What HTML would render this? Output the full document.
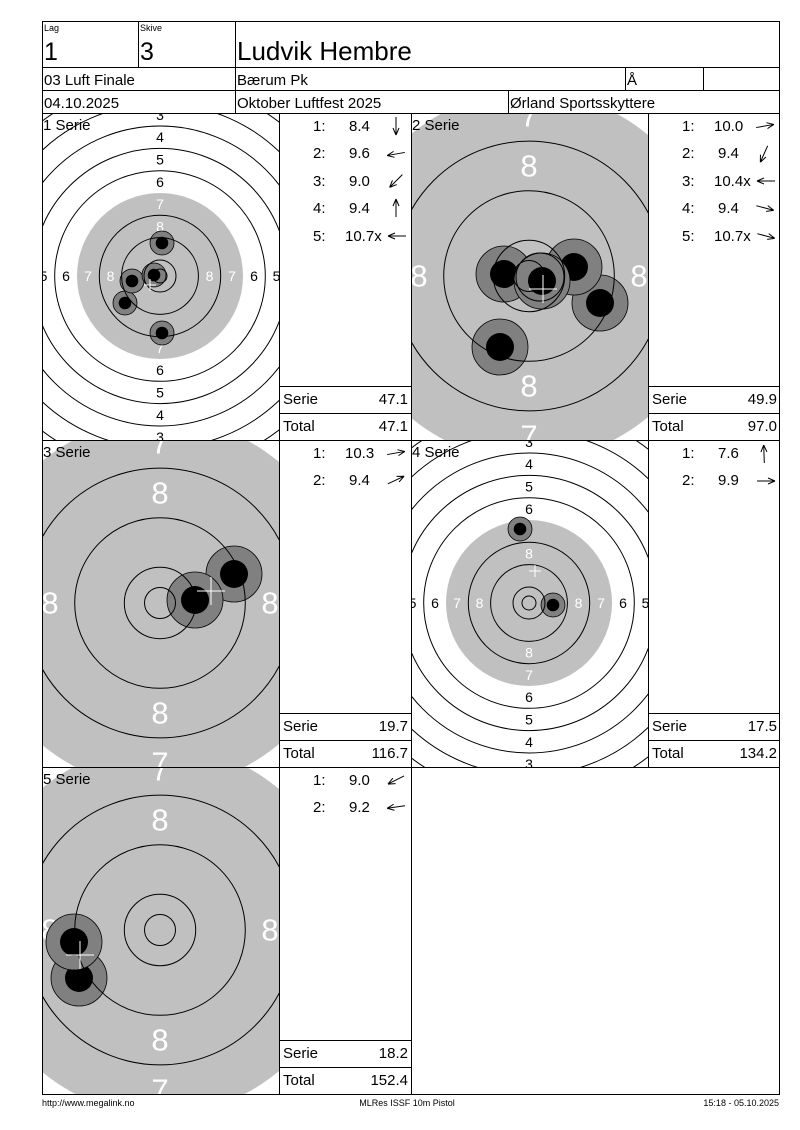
<!DOCTYPE html>
<html><head><meta charset="utf-8"><style>
html,body{margin:0;padding:0;background:#fff;width:800px;height:1130px;overflow:hidden}
svg, svg text{font-family:"Liberation Sans",Arial,sans-serif}
.t{font-size:15px;fill:#000}
.lb{font-size:14px;text-anchor:middle;dominant-baseline:central}
.lg{font-size:31px;text-anchor:middle;dominant-baseline:central;fill:#fff}
.rg{fill:none;stroke:#000;stroke-width:1}
.h{fill:#808080;stroke:#000;stroke-width:0.8}
.ar{fill:none;stroke:#000;stroke-width:1}
</style></head><body>
<svg width="800" height="1130" viewBox="0 0 800 1130" font-family="Liberation Sans, Arial, sans-serif" style="display:block">
<defs>
<clipPath id="c1"><rect x="43" y="114" width="236" height="326"/></clipPath>
<clipPath id="c2"><rect x="412" y="114" width="236" height="326"/></clipPath>
<clipPath id="c3"><rect x="43" y="441" width="236" height="326"/></clipPath>
<clipPath id="c4"><rect x="412" y="441" width="236" height="326"/></clipPath>
<clipPath id="c5"><rect x="43" y="768" width="236" height="326"/></clipPath>
<path id="ar" d="M-9,0 H9 M9,0 l-7,-3 M9,0 l-7,3"/>
<g id="smallOuter">
<circle class="rg" r="217"/><circle class="rg" r="194.6"/><circle class="rg" r="172.3"/><circle class="rg" r="150"/><circle class="rg" r="127.6"/><circle class="rg" r="105.3"/>
<circle r="83" fill="#c0c0c0"/>
<g font-family="Liberation Sans, Arial, sans-serif">
<text class="lb" x="0" y="-161">3</text><text class="lb" x="0" y="-139">4</text><text class="lb" x="0" y="-116.5">5</text><text class="lb" x="0" y="-94">6</text><text class="lb" x="0" y="-72" fill="#fff">7</text><text class="lb" x="0" y="-49.5" fill="#fff">8</text>
<text class="lb" x="0" y="161">3</text><text class="lb" x="0" y="139">4</text><text class="lb" x="0" y="116.5">5</text><text class="lb" x="0" y="94">6</text><text class="lb" x="0" y="72" fill="#fff">7</text><text class="lb" x="0" y="49.5" fill="#fff">8</text>
<text class="lb" x="-116.5" y="0">5</text><text class="lb" x="-94" y="0">6</text><text class="lb" x="-72" y="0" fill="#fff">7</text><text class="lb" x="-49.5" y="0" fill="#fff">8</text>
<text class="lb" x="116.5" y="0">5</text><text class="lb" x="94" y="0">6</text><text class="lb" x="72" y="0" fill="#fff">7</text><text class="lb" x="49.5" y="0" fill="#fff">8</text>
</g>
</g>
<g id="smallInner">
<circle class="rg" r="60.7"/><circle class="rg" r="38.4"/><circle class="rg" r="16"/><circle class="rg" r="7"/>
</g>
<g id="bigOuter">
<circle r="184.5" fill="#c0c0c0"/>
<g font-family="Liberation Sans, Arial, sans-serif">
<text class="lg" x="0" y="-110">8</text><text class="lg" x="0" y="110">8</text><text class="lg" x="-110" y="0">8</text><text class="lg" x="110" y="0">8</text>
<text class="lg" x="0" y="-160">7</text><text class="lg" x="0" y="160">7</text>
</g>
</g>
<g id="bigInner">
<circle class="rg" r="134.9"/><circle class="rg" r="85.3"/><circle class="rg" r="35.7"/><circle class="rg" r="15.5"/>
</g>
</defs>

<!-- Panel 1 -->
<g clip-path="url(#c1)"><g transform="translate(160,276)">
<use href="#smallOuter"/>
<circle class="h" cx="2" cy="-33" r="12"/><circle cx="2" cy="-33" r="6.3"/>
<circle class="h" cx="-35" cy="27" r="12"/><circle cx="-35" cy="27" r="6.3"/>
<circle class="h" cx="-28" cy="5" r="12"/><circle cx="-28" cy="5" r="6.3"/>
<circle class="h" cx="2" cy="57" r="12"/><circle cx="2" cy="57" r="6.3"/>
<circle class="h" cx="-6" cy="-1" r="12"/><circle cx="-6" cy="-1" r="6.3"/>
<use href="#smallInner"/>
<path d="M-16,9 H-4 M-10,3 V15" stroke="#fff" stroke-width="1"/>
</g></g>
<!-- Panel 2 -->
<g clip-path="url(#c2)"><g transform="translate(529,276)">
<use href="#bigOuter"/>
<circle class="h" cx="-29" cy="71" r="28"/><circle cx="-29" cy="71" r="14"/>
<circle class="h" cx="71" cy="27" r="28"/><circle cx="71" cy="27" r="14"/>
<circle class="h" cx="45" cy="-9" r="28"/><circle cx="45" cy="-9" r="14"/>
<circle class="h" cx="-25" cy="-2" r="28"/><circle cx="-25" cy="-2" r="14"/>
<circle class="h" cx="13" cy="5" r="28"/><circle cx="13" cy="5" r="14"/>
<circle class="rg" cx="11" cy="1" r="24" stroke-width="0.8"/>
<use href="#bigInner"/>
<path d="M0,13 H28 M14,-1 V27" stroke="#fff" stroke-width="1"/>
</g></g>
<!-- Panel 3 -->
<g clip-path="url(#c3)"><g transform="translate(160,603)">
<use href="#bigOuter"/>
<circle class="h" cx="74" cy="-29" r="28"/><circle cx="74" cy="-29" r="14"/>
<circle class="h" cx="35" cy="-3" r="28"/><circle cx="35" cy="-3" r="14"/>
<use href="#bigInner"/>
<path d="M37,-12 H65 M51,-26 V2" stroke="#fff" stroke-width="1"/>
</g></g>
<!-- Panel 4 -->
<g clip-path="url(#c4)"><g transform="translate(529,603)">
<use href="#smallOuter"/>
<circle class="h" cx="-9" cy="-74" r="12"/><circle cx="-9" cy="-74" r="6.3"/>
<circle class="h" cx="24" cy="2" r="12"/><circle cx="24" cy="2" r="6.3"/>
<use href="#smallInner"/>
<path d="M0,-32 H12 M6,-38 V-26" stroke="#fff" stroke-width="1"/>
</g></g>
<!-- Panel 5 -->
<g clip-path="url(#c5)"><g transform="translate(160,930)">
<use href="#bigOuter"/>
<circle class="h" cx="-81" cy="48" r="28"/><circle cx="-81" cy="48" r="14"/>
<circle class="h" cx="-86" cy="12" r="28"/><circle cx="-86" cy="12" r="14"/>
<use href="#bigInner"/>
<path d="M-94,25 H-66 M-80,11 V39" stroke="#fff" stroke-width="1"/>
</g></g>

<!-- Grid lines -->
<g stroke="#000" stroke-width="1" fill="none" shape-rendering="crispEdges">
<rect x="42.5" y="21.5" width="737" height="1073"/>
<path d="M42,67.5H780 M42,90.5H780 M42,113.5H780 M42,440.5H780 M42,767.5H780"/>
<path d="M138.5,21V67 M235.5,21V113 M625.5,67V90 M703.5,67V90 M508.5,90V113"/>
<path d="M279.5,113V1094 M411.5,113V1094 M648.5,113V767"/>
<path d="M279,386.5H411 M279,413.5H411 M648,386.5H780 M648,413.5H780 M279,713.5H411 M279,740.5H411 M648,713.5H780 M648,740.5H780 M279,1040.5H411 M279,1067.5H411"/>
</g>

<g font-family="Liberation Sans, Arial, sans-serif">
<!-- Header text -->
<text x="44" y="31" font-size="9">Lag</text>
<text x="140" y="31" font-size="9">Skive</text>
<text x="44" y="60" font-size="25">1</text>
<text x="140" y="60" font-size="25">3</text>
<text x="237" y="60" font-size="26">Ludvik Hembre</text>
<text class="t" x="44" y="85">03 Luft Finale</text>
<text class="t" x="237" y="85">Bærum Pk</text>
<text class="t" x="627" y="85">Å</text>
<text class="t" x="44" y="108">04.10.2025</text>
<text class="t" x="237" y="108">Oktober Luftfest 2025</text>
<text class="t" x="510" y="108">Ørland Sportsskyttere</text>

<!-- Serie labels -->
<text class="t" x="43" y="130">1 Serie</text>
<text class="t" x="412" y="130">2 Serie</text>
<text class="t" x="43" y="457">3 Serie</text>
<text class="t" x="412" y="457">4 Serie</text>
<text class="t" x="43" y="784">5 Serie</text>

<!-- Lists panel 1 -->
<g class="t">
<text x="313" y="131">1:</text><text x="349" y="131">8.4</text>
<text x="313" y="158">2:</text><text x="349" y="158">9.6</text>
<text x="313" y="186">3:</text><text x="349" y="186">9.0</text>
<text x="313" y="213">4:</text><text x="349" y="213">9.4</text>
<text x="313" y="241">5:</text><text x="345" y="241">10.7x</text>
<text x="283" y="404">Serie</text><text x="408" y="404" text-anchor="end">47.1</text>
<text x="283" y="431">Total</text><text x="408" y="431" text-anchor="end">47.1</text>
</g>
<!-- Lists panel 2 -->
<g class="t">
<text x="682" y="131">1:</text><text x="714" y="131">10.0</text>
<text x="682" y="158">2:</text><text x="718" y="158">9.4</text>
<text x="682" y="186">3:</text><text x="714" y="186">10.4x</text>
<text x="682" y="213">4:</text><text x="718" y="213">9.4</text>
<text x="682" y="241">5:</text><text x="714" y="241">10.7x</text>
<text x="652" y="404">Serie</text><text x="777" y="404" text-anchor="end">49.9</text>
<text x="652" y="431">Total</text><text x="777" y="431" text-anchor="end">97.0</text>
</g>
<!-- Lists panel 3 -->
<g class="t">
<text x="313" y="458">1:</text><text x="345" y="458">10.3</text>
<text x="313" y="485">2:</text><text x="349" y="485">9.4</text>
<text x="283" y="731">Serie</text><text x="408" y="731" text-anchor="end">19.7</text>
<text x="283" y="758">Total</text><text x="408" y="758" text-anchor="end">116.7</text>
</g>
<!-- Lists panel 4 -->
<g class="t">
<text x="682" y="458">1:</text><text x="718" y="458">7.6</text>
<text x="682" y="485">2:</text><text x="718" y="485">9.9</text>
<text x="652" y="731">Serie</text><text x="777" y="731" text-anchor="end">17.5</text>
<text x="652" y="758">Total</text><text x="777" y="758" text-anchor="end">134.2</text>
</g>
<!-- Lists panel 5 -->
<g class="t">
<text x="313" y="785">1:</text><text x="349" y="785">9.0</text>
<text x="313" y="812">2:</text><text x="349" y="812">9.2</text>
<text x="283" y="1058">Serie</text><text x="408" y="1058" text-anchor="end">18.2</text>
<text x="283" y="1085">Total</text><text x="408" y="1085" text-anchor="end">152.4</text>
</g>

<!-- Footer -->
<text x="42" y="1106" font-size="9">http://www.megalink.no</text>
<text x="407" y="1106" font-size="9" text-anchor="middle">MLRes ISSF 10m Pistol</text>
<text x="779" y="1106" font-size="9" text-anchor="end">15:18 - 05.10.2025</text>
</g>

<g class="ar">
<use href="#ar" transform="translate(396,126) rotate(90)"/>
<use href="#ar" transform="translate(396,154) rotate(170)"/>
<use href="#ar" transform="translate(396,181) rotate(135)"/>
<use href="#ar" transform="translate(396,208) rotate(-90)"/>
<use href="#ar" transform="translate(397,236) rotate(180)"/>
<use href="#ar" transform="translate(765,126) rotate(-10)"/>
<use href="#ar" transform="translate(764,154) rotate(114)"/>
<use href="#ar" transform="translate(766,181) rotate(180)"/>
<use href="#ar" transform="translate(765,208) rotate(15)"/>
<use href="#ar" transform="translate(766,236) rotate(15)"/>
<use href="#ar" transform="translate(396,453) rotate(-10)"/>
<use href="#ar" transform="translate(396,480) rotate(-25)"/>
<use href="#ar" transform="translate(764,454) rotate(-92)"/>
<use href="#ar" transform="translate(766,481) rotate(0)"/>
<use href="#ar" transform="translate(396,780) rotate(153)"/>
<use href="#ar" transform="translate(396,807) rotate(172)"/>
</g>
</svg>
</body></html>
